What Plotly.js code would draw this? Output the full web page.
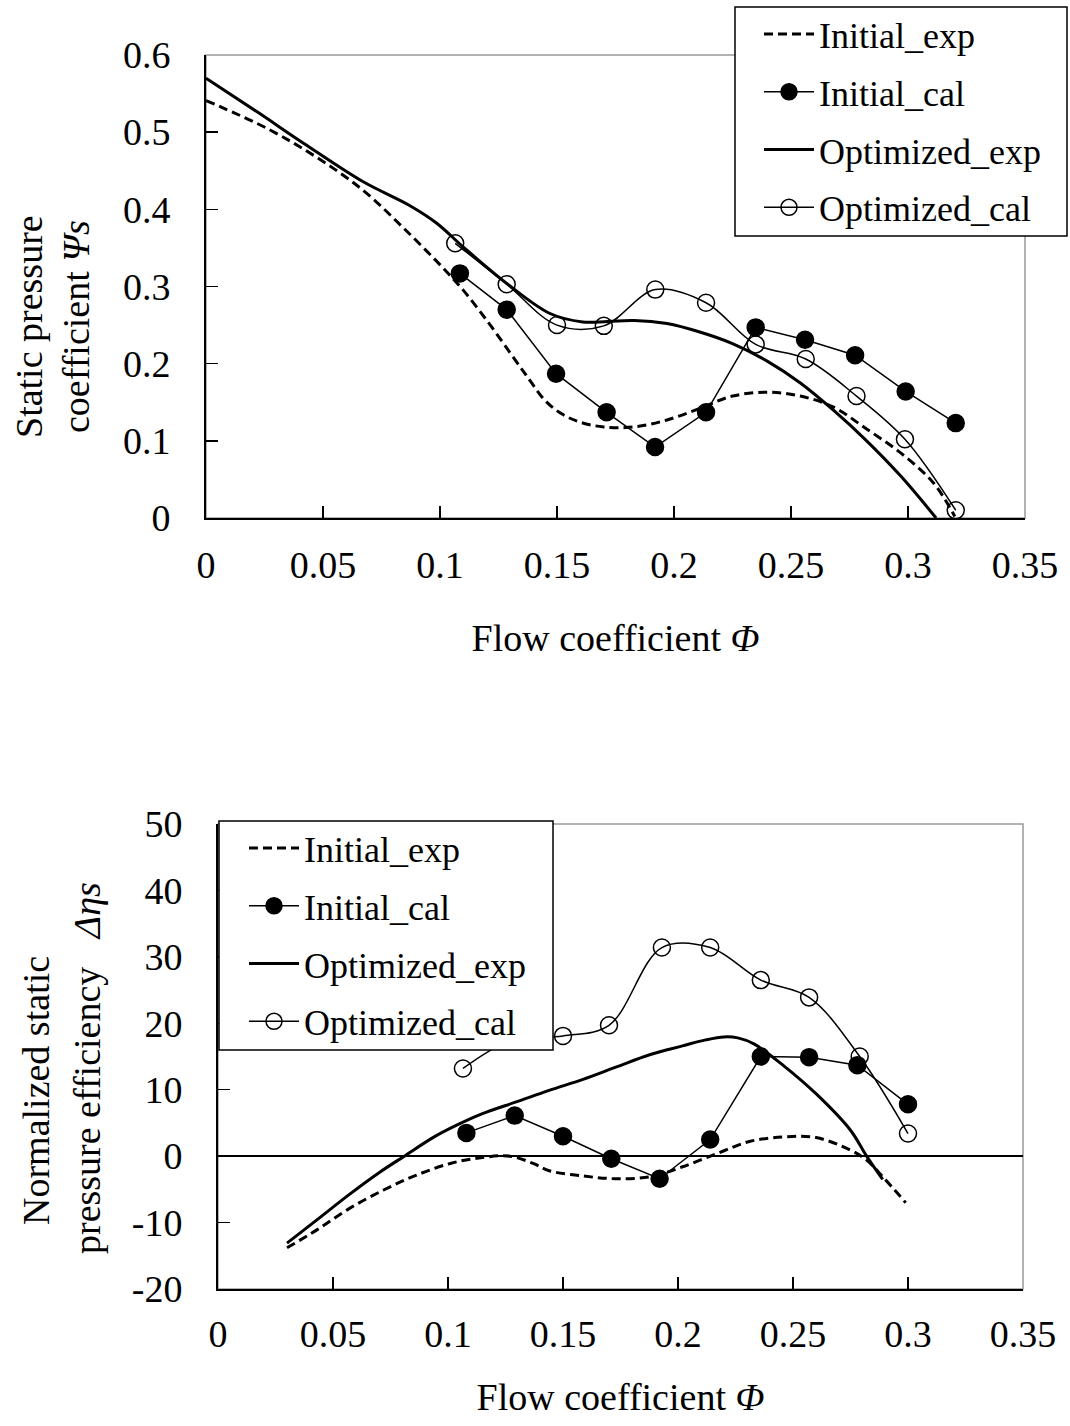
<!DOCTYPE html>
<html><head><meta charset="utf-8">
<script src="https://cdn.plot.ly/plotly-3.0.1.min.js"></script>
<style>html,body{margin:0;padding:0;background:#fff}</style>
</head><body><div id="chart" style="width:1070px;height:1426px"></div>
<script>
// ---------- Top chart: static pressure coefficient ----------
const topInitExpX = [0, 0.026, 0.047, 0.067, 0.084, 0.101, 0.110, 0.120, 0.130, 0.138, 0.145, 0.152, 0.160, 0.170, 0.183, 0.197, 0.211, 0.225, 0.240, 0.254, 0.268, 0.282, 0.297, 0.311, 0.320];
const topInitExpY = [0.541, 0.505, 0.468, 0.425, 0.377, 0.325, 0.295, 0.256, 0.214, 0.180, 0.152, 0.135, 0.124, 0.118, 0.118, 0.127, 0.142, 0.158, 0.163, 0.158, 0.144, 0.116, 0.084, 0.045, 0.002];
const topInitCalX = [0.1085, 0.1285, 0.1496, 0.1712, 0.1919, 0.2137, 0.2349, 0.256, 0.2774, 0.299, 0.3204];
const topInitCalY = [0.317, 0.270, 0.187, 0.137, 0.092, 0.137, 0.247, 0.231, 0.211, 0.164, 0.123];
const topOptExpX = [0, 0.022, 0.042, 0.067, 0.087, 0.0986, 0.110, 0.1285, 0.147, 0.161, 0.168, 0.183, 0.197, 0.211, 0.225, 0.240, 0.254, 0.268, 0.282, 0.297, 0.312];
const topOptExpY = [0.570, 0.526, 0.485, 0.436, 0.405, 0.382, 0.351, 0.304, 0.265, 0.254, 0.254, 0.256, 0.252, 0.241, 0.226, 0.203, 0.175, 0.140, 0.101, 0.054, 0.0];
const topOptCalX = [0.1065, 0.1285, 0.150, 0.170, 0.192, 0.2137, 0.2349, 0.2563, 0.278, 0.2987, 0.3204];
const topOptCalY = [0.356, 0.303, 0.250, 0.249, 0.296, 0.279, 0.225, 0.206, 0.158, 0.102, 0.010];

// ---------- Bottom chart: normalized static pressure efficiency ----------
const botInitExpX = [0.030, 0.043, 0.057, 0.072, 0.086, 0.101, 0.115, 0.127, 0.137, 0.144, 0.159, 0.173, 0.188, 0.202, 0.217, 0.231, 0.246, 0.260, 0.275, 0.282, 0.289, 0.299];
const botInitExpY = [-13.8, -11.1, -7.9, -5.1, -2.9, -1.1, -0.2, 0.0, -1.1, -2.2, -3.0, -3.4, -3.1, -1.6, 0.4, 2.2, 2.9, 2.8, 0.9, -0.6, -3.1, -7.0];
const botInitCalX = [0.108, 0.129, 0.150, 0.171, 0.192, 0.214, 0.236, 0.257, 0.278, 0.300];
const botInitCalY = [3.5, 6.1, 3.0, -0.4, -3.4, 2.5, 15.0, 14.9, 13.7, 7.8];
const botOptExpX = [0.030, 0.043, 0.057, 0.070, 0.081, 0.094, 0.104, 0.115, 0.130, 0.144, 0.159, 0.173, 0.188, 0.202, 0.212, 0.220, 0.226, 0.233, 0.246, 0.260, 0.275, 0.282, 0.289];
const botOptExpY = [-13.1, -9.6, -5.8, -2.5, 0.0, 2.9, 4.7, 6.4, 8.2, 9.9, 11.6, 13.4, 15.3, 16.6, 17.5, 17.95, 17.8, 16.9, 13.6, 9.4, 3.9, 0.0, -3.5];
const botOptCalX = [0.1065, 0.128, 0.150, 0.170, 0.193, 0.214, 0.236, 0.257, 0.279, 0.300];
const botOptCalY = [13.2, 17.5, 18.1, 19.7, 31.4, 31.4, 26.5, 23.9, 15.0, 3.4];

// ---------- Axis ticks ----------
const xTickVals = [0, 0.05, 0.1, 0.15, 0.2, 0.25, 0.3, 0.35];
const xTickText = ['0', '0.05', '0.1', '0.15', '0.2', '0.25', '0.3', '0.35'];
const topYTickVals = [0, 0.1, 0.2, 0.3, 0.4, 0.5, 0.6];
const topYTickText = ['0', '0.1', '0.2', '0.3', '0.4', '0.5', '0.6'];
const botYTickVals = [-20, -10, 0, 10, 20, 30, 40, 50];
const botYTickText = ['-20', '-10', '0', '10', '20', '30', '40', '50'];

const seriesNames = ['Initial_exp', 'Initial_cal', 'Optimized_exp', 'Optimized_cal'];

const FONT = 'Liberation Serif, Times New Roman, serif';
const W = 1070, H = 1426;
const px = v => v / W, py = v => 1 - v / H;

function expTrace(x, y, name, dashed, xa, ya, leg) {
  return {x, y, name, type: 'scatter', mode: 'lines', xaxis: xa, yaxis: ya, legend: leg,
    legendgroup: leg + name,
    line: {color: '#000', width: 3, dash: dashed ? '9px,5px' : 'solid', shape: 'spline', smoothing: 1}};
}
function calTrace(x, y, name, open, xa, ya, leg) {
  return {x, y, name, type: 'scatter', mode: 'lines+markers', xaxis: xa, yaxis: ya, legend: leg,
    legendgroup: leg + name,
    line: {color: '#000', width: 1.5, shape: open ? 'spline' : 'linear', smoothing: 1},
    marker: {symbol: open ? 'circle-open' : 'circle', size: 17, color: '#000', line: {color: '#000', width: 1.5}}};
}

const data = [
  expTrace(topInitExpX, topInitExpY, seriesNames[0], true, 'x', 'y', 'legend'),
  calTrace(topInitCalX, topInitCalY, seriesNames[1], false, 'x', 'y', 'legend'),
  expTrace(topOptExpX, topOptExpY, seriesNames[2], false, 'x', 'y', 'legend'),
  calTrace(topOptCalX, topOptCalY, seriesNames[3], true, 'x', 'y', 'legend'),
  expTrace(botInitExpX, botInitExpY, seriesNames[0], true, 'x2', 'y2', 'legend2'),
  calTrace(botInitCalX, botInitCalY, seriesNames[1], false, 'x2', 'y2', 'legend2'),
  expTrace(botOptExpX, botOptExpY, seriesNames[2], false, 'x2', 'y2', 'legend2'),
  calTrace(botOptCalX, botOptCalY, seriesNames[3], true, 'x2', 'y2', 'legend2')
];

const axisCommon = {
  showline: true, linecolor: '#000', linewidth: 2, showgrid: false, zeroline: false,
  ticks: 'inside', ticklen: 12, tickwidth: 1.5, tickcolor: '#000',
  tickfont: {family: FONT, size: 38, color: '#000'}, tickmode: 'array', fixedrange: true
};

const legendCommon = {
  bgcolor: 'rgba(0,0,0,0)', bordercolor: '#000', borderwidth: 0,
  font: {family: FONT, size: 36, color: '#000'},
  xanchor: 'left', yanchor: 'top', xref: 'paper', yref: 'paper',
  itemwidth: 50, tracegroupgap: 8, traceorder: 'grouped'
};

const titleFont = {family: FONT, size: 38, color: '#000'};

const layout = {
  width: W, height: H, margin: {l: 0, r: 0, t: 0, b: 0},
  paper_bgcolor: '#fff', plot_bgcolor: '#fff',
  font: {family: FONT, color: '#000'},
  showlegend: true,
  xaxis: Object.assign({}, axisCommon, {domain: [px(206), px(1025)], range: [0, 0.35], anchor: 'y',
    tickvals: xTickVals, ticktext: xTickText, ticklabelstandoff: 12,
    title: {text: 'Flow coefficient <i>Φ</i>', font: titleFont, standoff: 40}}),
  yaxis: Object.assign({}, axisCommon, {domain: [py(518), py(55)], range: [0, 0.6], anchor: 'x',
    tickvals: topYTickVals, ticktext: topYTickText, ticklabelstandoff: 26}),
  xaxis2: Object.assign({}, axisCommon, {domain: [px(218), px(1023)], range: [0, 0.35], anchor: 'y2',
    tickvals: xTickVals, ticktext: xTickText, ticklabelstandoff: 10,
    title: {text: 'Flow coefficient <i>Φ</i>', font: titleFont, standoff: 30}}),
  yaxis2: Object.assign({}, axisCommon, {domain: [py(1289), py(824)], range: [-20, 50], anchor: 'x2',
    tickvals: botYTickVals, ticktext: botYTickText, ticklabelstandoff: 26,
    zeroline: true, zerolinecolor: '#000', zerolinewidth: 1.5}),
  legend: Object.assign({}, legendCommon, {x: px(759), y: py(4)}),
  legend2: Object.assign({}, legendCommon, {x: px(244), y: py(818)}),
  shapes: [
    {type: 'rect', xref: 'x domain', yref: 'y domain', x0: 0, x1: 1, y0: 0, y1: 1,
      line: {color: '#999', width: 1.5}, layer: 'below'},
    {type: 'rect', xref: 'x2 domain', yref: 'y2 domain', x0: 0, x1: 1, y0: 0, y1: 1,
      line: {color: '#999', width: 1.5}, layer: 'below'},
    // legend frames
    {type: 'rect', xref: 'paper', yref: 'paper', x0: px(735), x1: px(1067), y0: py(236), y1: py(7),
      line: {color: '#000', width: 1.5}, fillcolor: '#fff', layer: 'above'},
    {type: 'rect', xref: 'paper', yref: 'paper', x0: px(219), x1: px(553), y0: py(1050), y1: py(821),
      line: {color: '#000', width: 1.5}, fillcolor: '#fff', layer: 'above'}
  ],
  annotations: [
    {text: 'Static pressure', xref: 'paper', yref: 'paper', x: px(29), y: py(327), textangle: -90,
      showarrow: false, xanchor: 'center', yanchor: 'middle', font: titleFont},
    {text: 'coefficient <i>Ψs</i>', xref: 'paper', yref: 'paper', x: px(76), y: py(327), textangle: -90,
      showarrow: false, xanchor: 'center', yanchor: 'middle', font: titleFont},
    {text: 'Normalized static', xref: 'paper', yref: 'paper', x: px(36), y: py(1091), textangle: -90,
      showarrow: false, xanchor: 'center', yanchor: 'middle', font: titleFont},
    {text: 'pressure efficiency\u00a0\u00a0\u00a0<i>Δηs</i>', xref: 'paper', yref: 'paper', x: px(87), y: py(1068), textangle: -90,
      showarrow: false, xanchor: 'center', yanchor: 'middle', font: titleFont}
  ]
};

Plotly.newPlot('chart', data, layout, {staticPlot: true, displayModeBar: false});
</script></body></html>
